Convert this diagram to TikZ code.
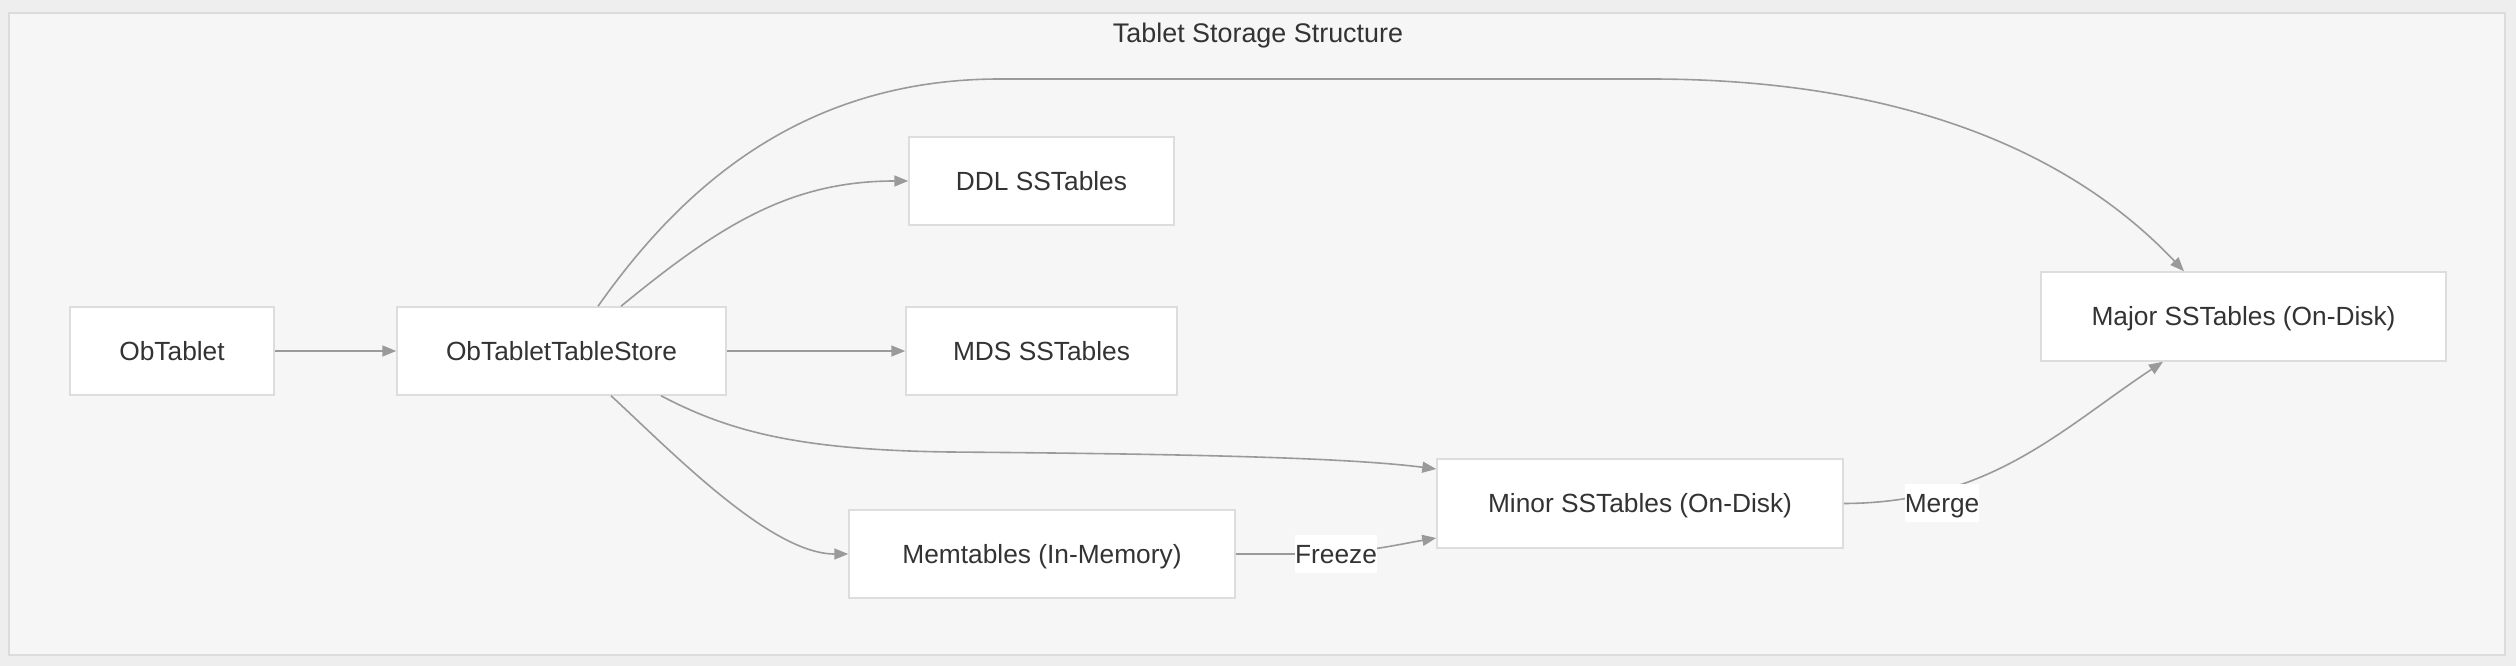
\documentclass[tikz,border=0pt]{standalone}
\usepackage{fontspec}
\setmainfont{Liberation Sans}
\usetikzlibrary{arrows.meta,calc}
\definecolor{edgec}{HTML}{9A9A9A}
\definecolor{boxc}{HTML}{DDDDDD}
\definecolor{txt}{HTML}{333333}
\definecolor{outerc}{HTML}{EEEEEE}
\definecolor{innerc}{HTML}{F6F6F6}
\definecolor{framec}{HTML}{DCDCDC}
\begin{document}
\begin{tikzpicture}[x=1pt,y=-1pt,
  box/.style={draw=boxc, fill=white, line width=1.5pt, minimum height=88pt, inner sep=0pt,
    text=txt, font=\fontsize{26.3}{30}\selectfont, text height=24pt, text depth=5.2pt},
  conn/.style={draw=edgec, line width=1.6pt, -{Triangle[length=14pt,width=11pt]}},
  lbl/.style={fill=white, text=txt, inner xsep=0pt, inner ysep=4pt, font=\fontsize{26.3}{30}\selectfont,
    text height=24pt, text depth=5.2pt}]
\useasboundingbox (0,0) rectangle (2516,666);
\fill[outerc] (0,0) rectangle (2516,666);
\draw[framec, fill=innerc, line width=2pt] (9,13) rectangle (2505,655);
\node[text=txt, font=\fontsize{26.9}{30}\selectfont, anchor=base, inner sep=0pt] (title) at (1258,42.5) {Tablet Storage Structure};

\node[box, minimum width=204pt] (obt) at (172,351) {ObTablet};
\node[box, minimum width=329pt] (store) at (561.5,351) {ObTabletTableStore};
\node[box, minimum width=265pt] (ddl) at (1041.5,181) {DDL SSTables};
\node[box, minimum width=271pt] (mds) at (1041.5,351) {MDS SSTables};
\node[box, minimum width=386pt] (mem) at (1042,554) {Memtables (In-Memory)};
\node[box, minimum width=406pt, minimum height=89pt] (minor) at (1640,503.5) {Minor SSTables (On-Disk)};
\node[box, minimum width=405pt, minimum height=89pt] (major) at (2243.5,316.5) {Major SSTables (On-Disk)};

\draw[conn] (obt.east) -- (store.west);
\draw[conn] (store.east) -- (mds.west);
\draw[conn] ([xshift=59.5pt]store.north) .. controls (720,225) and (790,181) .. (ddl.west);
\draw[conn] ([xshift=36.5pt]store.north) .. controls (680,190) and (800,79) .. (1000,79)
  -- (1650,79) .. controls (1880,79) and (2060,140) .. ([xshift=-59.5pt]major.north);
\draw[conn] ([xshift=99.5pt]store.south) .. controls (730,432) and (800,450) .. (950,452)
  .. controls (1200,454) and (1350,458) .. ([yshift=34.5pt]minor.west);
\draw[conn] ([xshift=49.5pt]store.south) .. controls (670,450) and (770,554) .. (mem.west);
\draw[conn] (mem.east) -- (1300,554) .. controls (1360,554) and (1395,545) .. ([yshift=-34.5pt]minor.west);
\draw[conn] (minor.east) .. controls (1990,503) and (2060,430) .. ([xshift=-80.5pt]major.south);
\node[lbl] (freeze) at (1336,554) {Freeze};
\node[lbl] (merge) at (1942,503) {Merge};
\end{tikzpicture}
\end{document}
